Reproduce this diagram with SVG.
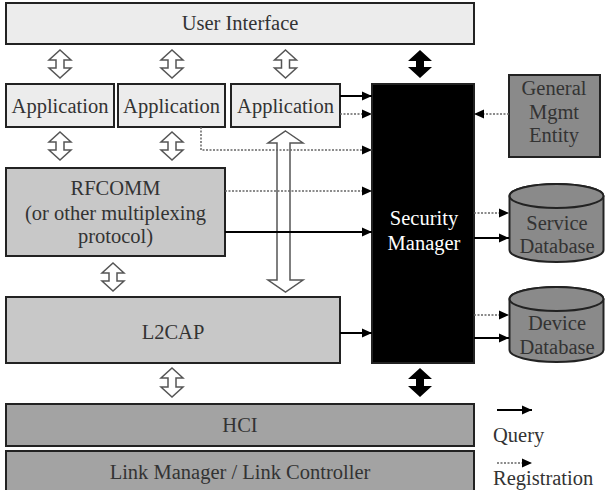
<svg xmlns="http://www.w3.org/2000/svg" width="605" height="490" viewBox="0 0 605 490">
<style>
  text{font-family:'Liberation Serif','DejaVu Serif',serif;font-size:20.5px;fill:#333}
  .t{text-anchor:middle}
  .tl{text-anchor:start}
  .w{fill:#fff}
  .light{fill:#ececec;stroke:#222;stroke-width:2}
  .mid{fill:#c8c8c8;stroke:#222;stroke-width:2}
  .dark{fill:#a3a3a3;stroke:#222;stroke-width:2}
  .darker{fill:#8a8a8a;stroke:#222;stroke-width:2}
  .sm{fill:#000;stroke:#222;stroke-width:2}
  .hollow{fill:#fff;stroke:#555;stroke-width:1.5}
  .solidarrow{fill:#000;stroke:none}
  .q{stroke:#000;stroke-width:2;fill:none;marker-end:url(#head)}
  .r{stroke:#666;stroke-width:1.5;stroke-dasharray:2 1.5;fill:none;marker-end:url(#head)}
</style>
<defs>
  <marker id="head" markerUnits="userSpaceOnUse" markerWidth="11" markerHeight="10" refX="10" refY="5" orient="auto">
    <path d="M0,0.5 L10,5 L0,9.5 Z" fill="#000"/>
  </marker>
</defs>

<g id="user-interface">
  <rect class="light" x="6" y="3" width="468" height="41"/>
  <text class="t" x="240" y="30">User Interface</text>
</g>
<g id="app1">
  <rect class="light" x="6" y="84" width="108" height="43"/>
  <text class="t" x="60" y="113">Application</text>
</g>
<g id="app2">
  <rect class="light" x="118" y="84" width="107" height="43"/>
  <text class="t" x="171.5" y="113">Application</text>
</g>
<g id="app3">
  <rect class="light" x="231" y="84" width="109" height="43"/>
  <text class="t" x="285.5" y="113">Application</text>
</g>
<g id="rfcomm">
  <rect class="mid" x="6" y="168" width="219" height="88"/>
  <text class="t" x="115.5" y="195">RFCOMM</text>
  <text class="t" x="115.5" y="220">(or other multiplexing</text>
  <text class="t" x="115.5" y="243">protocol)</text>
</g>
<g id="l2cap">
  <rect class="mid" x="6" y="297" width="334" height="66"/>
  <text class="t" x="173" y="339">L2CAP</text>
</g>
<g id="security-manager">
  <rect class="sm" x="372" y="84" width="102" height="279"/>
  <text class="t w" x="424" y="225">Security</text>
  <text class="t w" x="424" y="250">Manager</text>
</g>
<g id="gme">
  <rect class="darker" x="509" y="75" width="91" height="82"/>
  <text class="t" x="554" y="95">General</text>
  <text class="t" x="554" y="119">Mgmt</text>
  <text class="t" x="554" y="142">Entity</text>
</g>
<g id="service-db">
  <path class="darker" d="M509.5,196 A47,12 0 0 1 603.5,196 L603.5,250 A47,12 0 0 1 509.5,250 Z"/>
  <ellipse class="darker" cx="556.5" cy="196" rx="47" ry="12"/>
  <text class="t" x="557" y="230">Service</text>
  <text class="t" x="557" y="253">Database</text>
</g>
<g id="device-db">
  <path class="darker" d="M509.5,299 A47,12 0 0 1 603.5,299 L603.5,350 A47,12 0 0 1 509.5,350 Z"/>
  <ellipse class="darker" cx="556.5" cy="299" rx="47" ry="12"/>
  <text class="t" x="557" y="330">Device</text>
  <text class="t" x="557" y="354">Database</text>
</g>
<g id="hci">
  <rect class="dark" x="6" y="404" width="468" height="42"/>
  <text class="t" x="240" y="432">HCI</text>
</g>
<g id="link-manager">
  <rect class="dark" x="6" y="451" width="468" height="45"/>
  <text class="t" x="240" y="479">Link Manager / Link Controller</text>
</g>
<g id="legend">
  <line class="q" x1="497" y1="410" x2="532" y2="410"/>
  <text class="tl" x="493" y="442">Query</text>
  <line class="r" x1="497" y1="463" x2="532" y2="463"/>
  <text class="tl" x="493" y="485">Registration</text>
</g>

<g id="connectors">
  <path class="hollow" d="M60,50 L71,60 L64,60 L64,68 L71,68 L60,78 L49,68 L56,68 L56,60 L49,60 Z"/>
  <path class="hollow" d="M172,50 L183,60 L176,60 L176,68 L183,68 L172,78 L161,68 L168,68 L168,60 L161,60 Z"/>
  <path class="hollow" d="M285.5,50 L296.5,60 L289.5,60 L289.5,68 L296.5,68 L285.5,78 L274.5,68 L281.5,68 L281.5,60 L274.5,60 Z"/>
  <path class="hollow" d="M60,132 L71,142 L64,142 L64,150 L71,150 L60,160 L49,150 L56,150 L56,142 L49,142 Z"/>
  <path class="hollow" d="M172,132 L183,142 L176,142 L176,150 L183,150 L172,160 L161,150 L168,150 L168,142 L161,142 Z"/>
  <path class="hollow" d="M113,263 L124,273 L117,273 L117,281 L124,281 L113,291 L102,281 L109,281 L109,273 L102,273 Z"/>
  <path class="hollow" d="M172,368 L183,378 L176,378 L176,387 L183,387 L172,397 L161,387 L168,387 L168,378 L161,378 Z"/>
  <path class="hollow" d="M285.5,131 L303,143 L290,143 L290,280 L303,280 L285.5,292 L268,280 L277,280 L277,143 L268,143 Z"/>
  <path class="solidarrow" d="M420,50 L432,61 L424,61 L424,67 L432,67 L420,78 L408,67 L416,67 L416,61 L408,61 Z"/>
  <path class="solidarrow" d="M420,368 L432,379 L424,379 L424,386 L432,386 L420,397 L408,386 L416,386 L416,379 L408,379 Z"/>
  <line class="q" x1="340" y1="96" x2="372" y2="96"/>
  <line class="r" x1="340" y1="114" x2="372" y2="114"/>
  <polyline class="r" points="201,127 201,150 372,150"/>
  <line class="r" x1="225" y1="191" x2="372" y2="191"/>
  <line class="q" x1="225" y1="232" x2="372" y2="232"/>
  <line class="q" x1="340" y1="333" x2="372" y2="333"/>
  <line class="r" x1="509" y1="114" x2="474" y2="114"/>
  <line class="r" x1="474" y1="213" x2="509" y2="213"/>
  <line class="q" x1="474" y1="238" x2="509" y2="238"/>
  <line class="r" x1="474" y1="315" x2="509" y2="315"/>
  <line class="q" x1="474" y1="338" x2="509" y2="338"/>
</g>
</svg>
